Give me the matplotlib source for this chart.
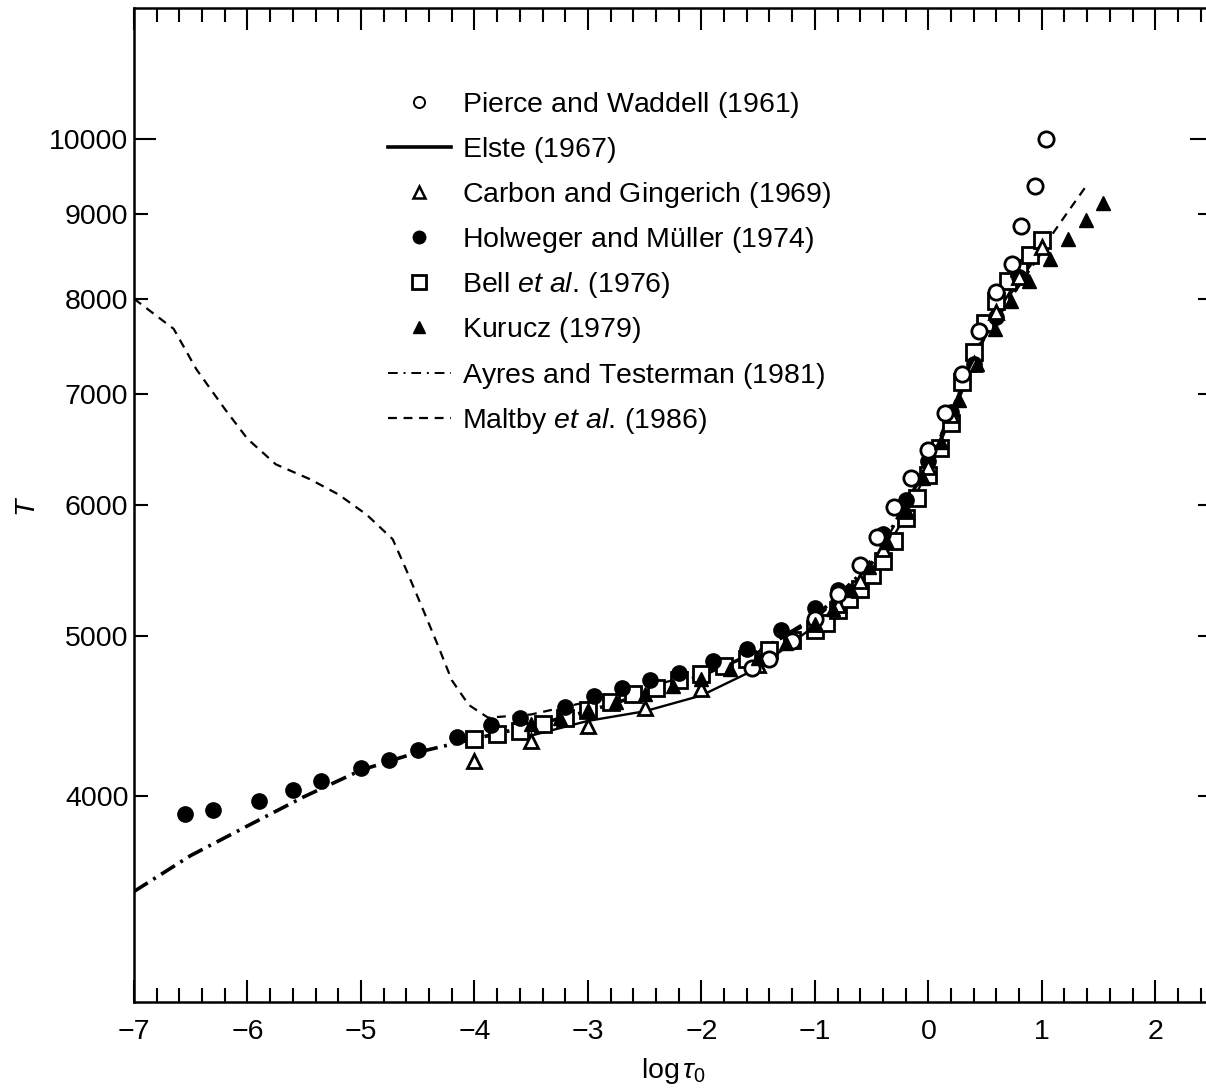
import matplotlib
matplotlib.use("Agg")
import matplotlib.pyplot as plt
from matplotlib.lines import Line2D

plt.rcParams['font.family'] = ['Liberation Sans', 'DejaVu Sans']
plt.rcParams['mathtext.fontset'] = 'custom'
plt.rcParams['mathtext.rm'] = 'Liberation Sans'
plt.rcParams['mathtext.it'] = 'Liberation Sans:italic'
plt.rcParams['mathtext.bf'] = 'Liberation Sans:bold'

# ---------------- data (log tau_0, T) ----------------
pw_x = [-1.55, -1.4, -1.2, -1.0, -0.8, -0.6, -0.45, -0.3, -0.15, 0.0, 0.15, 0.3, 0.45, 0.6, 0.74, 0.82, 0.94, 1.04]
pw_T = [4780, 4840, 4960, 5120, 5300, 5520, 5740, 5980, 6230, 6480, 6820, 7200, 7650, 8080, 8400, 8850, 9360, 9990]

elste_x = [-3.6, -3.5, -3.0, -2.5, -2.0, -1.5, -1.0, -0.75, -0.5, -0.25, 0.0, 0.25, 0.5, 0.75, 1.0]
elste_T = [4330, 4350, 4440, 4500, 4600, 4780, 5070, 5250, 5480, 5830, 6300, 6900, 7600, 8150, 8600]

cg_x = [-4.0, -3.5, -3.0, -2.5, -2.0, -1.5, -1.0, -0.8, -0.6, -0.4, -0.2, 0.0, 0.2, 0.4, 0.6, 0.8, 1.0]
cg_T = [4200, 4320, 4410, 4520, 4640, 4800, 5080, 5220, 5400, 5640, 5950, 6330, 6800, 7300, 7850, 8250, 8600]

hm_x = [-6.55, -6.3, -5.9, -5.6, -5.35, -5.0, -4.75, -4.5, -4.15, -3.85, -3.6, -3.2, -2.95, -2.7, -2.45,
        -2.2, -1.9, -1.6, -1.3, -1.0, -0.8, -0.6, -0.4, -0.2, 0.0, 0.2, 0.4, 0.6, 0.8]
hm_T = [3900, 3920, 3970, 4030, 4085, 4155, 4205, 4265, 4340, 4415, 4460, 4530, 4600, 4650, 4700,
        4750, 4830, 4910, 5040, 5200, 5330, 5520, 5760, 6040, 6380, 6830, 7300, 7800, 8250]

bell_x = [-4.0, -3.8, -3.6, -3.4, -3.2, -3.0, -2.8, -2.6, -2.4, -2.2, -2.0, -1.8, -1.6, -1.4, -1.2, -1.0,
          -0.9, -0.8, -0.7, -0.6, -0.5, -0.4, -0.3, -0.2, -0.1, 0.0, 0.1, 0.2, 0.3, 0.4, 0.5, 0.6, 0.7,
          0.8, 0.9, 1.0]
bell_T = [4330, 4360, 4380, 4420, 4460, 4510, 4560, 4610, 4650, 4700, 4740, 4790, 4840, 4900, 4970, 5040,
          5090, 5180, 5260, 5340, 5440, 5550, 5710, 5890, 6060, 6260, 6500, 6730, 7120, 7430, 7730, 7970, 8200,
          8350, 8500, 8680]

kur_x = [-3.5, -3.25, -3.0, -2.75, -2.5, -2.25, -2.0, -1.75, -1.5, -1.25, -1.0, -0.84, -0.68, -0.52, -0.36,
         -0.2, -0.05, 0.11, 0.27, 0.43, 0.585, 0.73, 0.89, 1.07, 1.23, 1.39, 1.54]
kur_T = [4420, 4460, 4510, 4560, 4610, 4660, 4710, 4770, 4850, 4950, 5080, 5190, 5330, 5500, 5700,
         5950, 6230, 6550, 6950, 7300, 7670, 7970, 8200, 8460, 8700, 8930, 9140]

at_x = [-7.0, -6.5, -6.0, -5.5, -5.0, -4.5, -4.0, -3.5, -3.0, -2.5, -2.0, -1.5, -1.0, -0.5, 0.0, 0.5, 1.0]
at_T = [3500, 3680, 3835, 3995, 4145, 4250, 4330, 4410, 4500, 4610, 4730, 4890, 5130, 5530, 6350, 7600, 8550]

mal_x = [-7.0, -6.65, -6.45, -6.2, -6.0, -5.75, -5.45, -5.2, -4.95, -4.72, -4.6, -4.45, -4.32, -4.2, -4.05,
         -3.88, -3.5, -3.0, -2.5, -2.0, -1.5, -1.0, -0.5, 0.0, 0.5, 1.0, 1.2, 1.4]
mal_T = [8000, 7670, 7250, 6860, 6580, 6350, 6220, 6090, 5920, 5720, 5480, 5180, 4930, 4700, 4540,
         4460, 4480, 4560, 4650, 4750, 4890, 5110, 5510, 6350, 7650, 8570, 8970, 9380]

x_major = [-7, -6, -5, -4, -3, -2, -1, 0, 1, 2]
y_major = [10000]
y_minor = [4000, 5000, 6000, 7000, 8000, 9000]

labels = [r'$\mathrm{Pierce\ and\ Waddell\ (1961)}$',
          r'$\mathrm{Elste\ (1967)}$',
          r'$\mathrm{Carbon\ and\ Gingerich\ (1969)}$',
          r'$\mathrm{Holweger\ and\ Müller\ (1974)}$',
          r'$\mathrm{Bell}\ \mathit{et\ al.}\,\mathrm{(1976)}$',
          r'$\mathrm{Kurucz\ (1979)}$',
          r'$\mathrm{Ayres\ and\ Testerman\ (1981)}$',
          r'$\mathrm{Maltby}\ \mathit{et\ al.}\,\mathrm{(1986)}$']

# ---------------- figure ----------------
FS = 20.5
fig = plt.figure(figsize=(12.06, 10.90), dpi=100)
ax = fig.add_axes([134 / 1206, 88 / 1090, 1078 / 1206, 994 / 1090])
ax.set_yscale('log')

ax.plot(mal_x, mal_T, color='k', lw=1.6, ls=(0, (4, 3)), zorder=2)
ax.plot(at_x, at_T, color='k', lw=2.6, ls=(0, (4.5, 1.8, 0.8, 1.8)), zorder=2)
ax.plot(elste_x, elste_T, color='k', lw=1.7, zorder=2)

ax.plot(bell_x, bell_T, ls='none', marker='s', ms=12, mfc='white', mec='k', mew=2, zorder=3)
ax.plot(hm_x, hm_T, ls='none', marker='o', ms=11, color='k', zorder=4)
ax.plot(cg_x, cg_T, ls='none', marker='^', ms=10, mfc='white', mec='k', mew=2, zorder=4)
ax.plot(pw_x, pw_T, ls='none', marker='o', ms=11, mfc='white', mec='k', mew=2, zorder=4)
ax.plot(kur_x, kur_T, ls='none', marker='^', ms=10, color='k', zorder=5)

ax.set_xlim(-7, 2.5)
ax.set_ylim(3000, 12000)

ax.set_xticks(x_major)
ax.set_xticks([v / 5 for v in range(-35, 13)], minor=True)
ax.set_yticks(y_major, [str(v) for v in y_major])
ax.set_yticks(y_minor, [str(v) for v in y_minor], minor=True)

ax.tick_params(which='both', direction='in', top=True, right=True, width=1.5, labelsize=FS)
ax.tick_params(which='major', length=16)
ax.tick_params(which='minor', length=10)
ax.tick_params(axis='x', which='both', pad=12)
ax.tick_params(axis='y', which='both', pad=4)
for s in ax.spines.values():
    s.set_linewidth(1.8)

ax.set_xlabel(r'log$\,\tau_0$', fontsize=FS, labelpad=8)
ax.set_ylabel('T', fontsize=FS, fontstyle='italic', labelpad=8)

handles = [
    Line2D([], [], ls='none', marker='o', ms=8, mfc='white', mec='k', mew=1.4),
    Line2D([], [], color='k', lw=2.6),
    Line2D([], [], ls='none', marker='^', ms=8, mfc='white', mec='k', mew=1.8),
    Line2D([], [], ls='none', marker='o', ms=9, color='k'),
    Line2D([], [], ls='none', marker='s', ms=10, mfc='white', mec='k', mew=2),
    Line2D([], [], ls='none', marker='^', ms=8, color='k'),
    Line2D([], [], color='k', lw=1.4, ls=(0, (5, 3, 1, 3))),
    Line2D([], [], color='k', lw=1.6, ls=(0, (4, 3))),
]
ax.legend(handles, labels, loc='upper left', bbox_to_anchor=(0.2356, 0.9175), frameon=False,
          fontsize=FS, handlelength=2.2, handletextpad=0.4, labelspacing=0.53,
          borderaxespad=0, borderpad=0)

fig.savefig('out.png', dpi=100)
